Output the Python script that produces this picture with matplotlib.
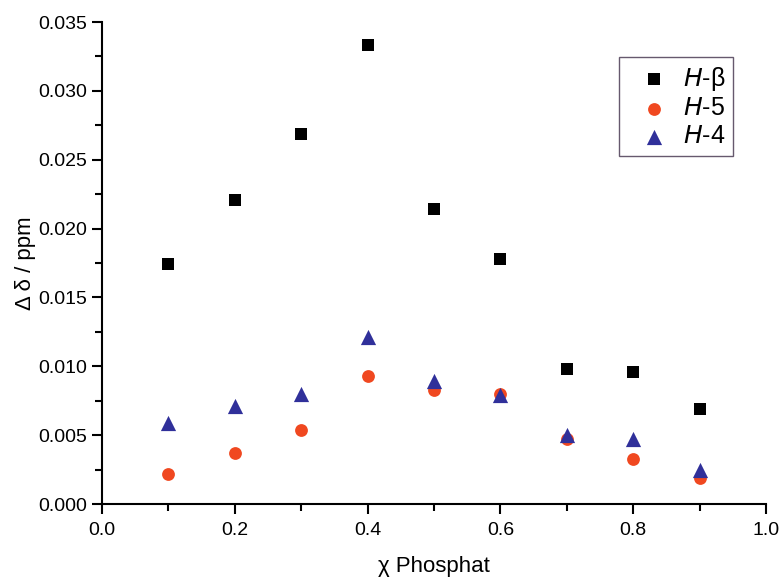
import matplotlib
matplotlib.use("Agg")
import matplotlib.pyplot as plt
from matplotlib.ticker import MultipleLocator, FormatStrFormatter

plt.rcParams['font.family'] = ['Liberation Sans', 'DejaVu Sans']

x = [0.1, 0.2, 0.3, 0.4, 0.5, 0.6, 0.7, 0.8, 0.9]
h_beta = [0.0174, 0.0221, 0.0269, 0.0333, 0.0214, 0.0178, 0.0098, 0.0096, 0.0069]
h_5 = [0.0022, 0.0037, 0.0054, 0.0093, 0.0083, 0.0080, 0.0047, 0.0033, 0.0019]
h_4 = [0.0059, 0.0071, 0.0080, 0.0121, 0.0089, 0.0079, 0.0050, 0.0047, 0.0025]

fig = plt.figure(figsize=(7.79, 5.79), dpi=100)
ax = fig.add_axes([0.1309, 0.1295, 0.8524, 0.8325])

ax.scatter(x, h_beta, marker='s', s=75, color='black', linewidths=0, label=r'$\it{H}$-β', zorder=3)
ax.scatter(x, h_5, marker='o', s=85, color='#f04820', linewidths=0, label=r'$\it{H}$-5', zorder=3)
ax.scatter(x, h_4, marker='^', s=120, color='#30309a', linewidths=0, label=r'$\it{H}$-4', zorder=4)

ax.set_xlim(0, 1.0)
ax.set_ylim(0, 0.035)
ax.xaxis.set_major_locator(MultipleLocator(0.2))
ax.xaxis.set_minor_locator(MultipleLocator(0.1))
ax.yaxis.set_major_locator(MultipleLocator(0.005))
ax.yaxis.set_minor_locator(MultipleLocator(0.0025))
ax.xaxis.set_major_formatter(FormatStrFormatter('%.1f'))
ax.yaxis.set_major_formatter(FormatStrFormatter('%.3f'))

for s in ['top', 'right']:
    ax.spines[s].set_visible(False)
for s in ['left', 'bottom']:
    ax.spines[s].set_linewidth(1.5)
ax.tick_params(which='major', direction='out', length=7, width=1.5, labelsize=14)
ax.tick_params(axis='x', which='major', pad=6)
ax.tick_params(which='minor', direction='out', length=5, width=1.5)

ax.set_xlabel('χ Phosphat', fontsize=16, labelpad=12)
ax.set_ylabel('Δ δ / ppm', fontsize=16, labelpad=2)

leg = ax.legend(loc='upper right', bbox_to_anchor=(0.950, 0.927), fontsize=18,
                frameon=True, fancybox=False, edgecolor='#40304a',
                handlelength=2.2, handletextpad=0.05, borderpad=0.3,
                labelspacing=0.15, borderaxespad=0, scatterpoints=1)
leg.get_frame().set_linewidth(1.0)

fig.savefig('out.png', dpi=100)
